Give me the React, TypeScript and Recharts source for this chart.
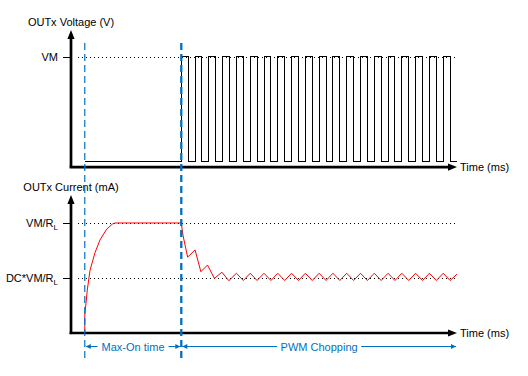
import React from 'react';
import { ComposedChart, Line, XAxis, YAxis, ReferenceLine } from 'recharts';

// ---- data (time in ms, arbitrary units; voltage in VM units; current in VM/RL units)
const voltageTime = [
  1, 8, 8.5, 9, 9.5, 10, 10.5, 11, 11.5, 12, 12.5, 13, 13.5, 14, 14.5, 15, 15.5,
  16, 16.5, 17, 17.5, 18, 18.5, 19, 19.5, 20, 20.5, 21, 21.5, 22, 22.5, 23, 23.5,
  24, 24.5, 25, 25.5, 26, 26.5, 27, 27.5, 28,
];
const voltageLevel = [
  0, 1, 0, 1, 0, 1, 0, 1, 0, 1, 0, 1, 0, 1, 0, 1, 0,
  1, 0, 1, 0, 1, 0, 1, 0, 1, 0, 1, 0, 1, 0, 1, 0,
  1, 0, 1, 0, 1, 0, 1, 0, 0,
];
const currentTime = [
  1, 1, 1.18, 1.38, 1.74, 2.1, 2.59, 3.0, 3.2, 8, 8.12, 8.46, 9, 9.42, 9.9, 10.4,
  10.95, 11.45, 12, 12.5, 13, 13.5, 14, 14.5, 15, 15.5, 16, 16.5, 17, 17.5, 18,
  18.5, 19, 19.5, 20, 20.5, 21, 21.5, 22, 22.5, 23, 23.5, 24, 24.5, 25, 25.5, 26,
  26.5, 27, 27.5, 28,
];
const currentLevel = [
  0, 0.16, 0.39, 0.57, 0.73, 0.845, 0.945, 0.99, 1, 1, 0.89, 0.69, 0.755, 0.557, 0.618, 0.497,
  0.552, 0.475, 0.543, 0.477, 0.543, 0.477, 0.543, 0.477, 0.543, 0.477, 0.543, 0.477, 0.543, 0.477, 0.543,
  0.477, 0.543, 0.477, 0.543, 0.477, 0.543, 0.477, 0.543, 0.477, 0.543, 0.477, 0.543, 0.477, 0.543, 0.477, 0.543,
  0.477, 0.543, 0.477, 0.535,
];

const maxOnStart = 1;
const maxOnEnd = 8;
const timeEnd = 28;
const vmLevel = 1;
const currentFull = 1;
const currentDc = 0.5;

const voltageData = voltageTime.map((t, k) => ({ t, v: voltageLevel[k] }));
const currentData = currentTime.map((t, k) => ({ t, i: currentLevel[k] }));

const FONT = "'Liberation Sans', Arial, sans-serif";
const BLUE = '#0070c0';

const px = (n: number) => Math.round(n) + 0.5;

const yArrowAxis = (title: string) => (p: any) => {
  const { x1, y1, y2 } = p;
  const top = Math.min(y1, y2);
  const bot = Math.max(y1, y2);
  return (
    <g>
      <line x1={x1} y1={bot} x2={x1} y2={top + 6} stroke="#000" strokeWidth={2.7} />
      <polygon points={`${x1},${top} ${x1 - 3.6},${top + 9} ${x1 + 3.6},${top + 9}`} fill="#000" />
      <text x={x1} y={top - 4} textAnchor="middle" fontFamily={FONT} fontSize={11} fill="#000">
        {title}
      </text>
    </g>
  );
};

const xArrowAxis = (title: string) => (p: any) => {
  const { x1, x2, y1 } = p;
  const l = Math.min(x1, x2);
  const r = Math.max(x1, x2);
  return (
    <g>
      <line x1={l} y1={y1} x2={r - 6} y2={y1} stroke="#000" strokeWidth={2.7} />
      <polygon points={`${r},${y1} ${r - 9},${y1 - 3.6} ${r - 9},${y1 + 3.6}`} fill="#000" />
      <text x={r + 3} y={y1 + 4} textAnchor="start" fontFamily={FONT} fontSize={11} fill="#000">
        {title}
      </text>
    </g>
  );
};

const levelShape = (main: string, sub?: string) => (p: any) => {
  const { x1, x2, y1 } = p;
  const l = Math.min(x1, x2);
  const r = Math.max(x1, x2);
  const y = px(y1);
  return (
    <g>
      <line x1={l - 8} y1={y} x2={l} y2={y} stroke="#000" strokeWidth={1} shapeRendering="crispEdges" />
      <line x1={Math.round(l) + 7} y1={y} x2={r} y2={y} stroke="#000" strokeWidth={1}
        strokeDasharray="1 3" shapeRendering="crispEdges" />
      <text x={l - 13} y={y1 + 4} textAnchor="end" fontFamily={FONT} fontSize={11} fill="#000">
        {main}
        {sub ? (
          <tspan fontSize={8} dy={3}>
            {sub}
          </tspan>
        ) : null}
      </text>
    </g>
  );
};

const spanShape = (label: string, gap: number) => (p: any) => {
  const { x1, x2, y1 } = p;
  const l = Math.min(x1, x2);
  const r = Math.max(x1, x2);
  const cx = (l + r) / 2;
  const y = px(y1);
  return (
    <g>
      <line x1={l + 1} y1={y} x2={r - 1} y2={y} stroke={BLUE} strokeWidth={1} shapeRendering="crispEdges" />
      <polygon points={`${l + 1},${y} ${l + 6},${y - 2.5} ${l + 6},${y + 2.5}`} fill={BLUE} />
      <polygon points={`${r - 1},${y} ${r - 6},${y - 2.5} ${r - 6},${y + 2.5}`} fill={BLUE} />
      <rect x={cx - gap / 2} y={y - 8} width={gap} height={16} fill="#fff" />
      <text x={cx} y={y + 4} textAnchor="middle" fontFamily={FONT} fontSize={11} fill={BLUE}>
        {label}
      </text>
    </g>
  );
};

export default function App() {
  return (
    <div style={{ position: 'absolute', left: 0, top: 0, width: 528, height: 376, background: '#fff' }}>
      <ComposedChart width={528} height={376} margin={{ top: 0, right: 71, bottom: 0, left: 71 }}>
        <XAxis dataKey="t" type="number" domain={[0, timeEnd]} allowDataOverflow hide />
        <YAxis yAxisId="v" type="number" domain={[-2.067, 1.548]} allowDataOverflow hide />
        <YAxis yAxisId="i" type="number" domain={[-0.391, 3.027]} allowDataOverflow hide />

        {/* level guide lines with tick labels */}
        <ReferenceLine yAxisId="v" ifOverflow="visible"
          segment={[{ x: 0, y: vmLevel }, { x: 27.9, y: vmLevel }]} shape={levelShape('VM')} />
        <ReferenceLine yAxisId="i" ifOverflow="visible"
          segment={[{ x: 0, y: currentFull }, { x: 27.9, y: currentFull }]} shape={levelShape('VM/R', 'L')} />
        <ReferenceLine yAxisId="i" ifOverflow="visible"
          segment={[{ x: 0, y: currentDc }, { x: 27.9, y: currentDc }]} shape={levelShape('DC*VM/R', 'L')} />

        <Line yAxisId="v" data={voltageData} dataKey="v" type="stepAfter" stroke="#000" strokeWidth={1}
          shapeRendering="crispEdges" dot={false} activeDot={false} isAnimationActive={false} />
        <Line yAxisId="i" data={currentData} dataKey="i" type="linear" stroke="#ff0000" strokeWidth={1}
          dot={false} activeDot={false} isAnimationActive={false} />

        {/* axes with arrows */}
        <ReferenceLine yAxisId="v" ifOverflow="visible"
          segment={[{ x: 0, y: -0.06 }, { x: 0, y: 1.26 }]} shape={yArrowAxis('OUTx Voltage (V)')} />
        <ReferenceLine yAxisId="v" ifOverflow="visible"
          segment={[{ x: -0.1, y: -0.058 }, { x: timeEnd, y: -0.058 }]} shape={xArrowAxis('Time (ms)')} />
        <ReferenceLine yAxisId="i" ifOverflow="visible"
          segment={[{ x: 0, y: -0.01 }, { x: 0, y: 1.255 }]} shape={yArrowAxis('OUTx Current (mA)')} />
        <ReferenceLine yAxisId="i" ifOverflow="visible"
          segment={[{ x: -0.1, y: 0 }, { x: timeEnd, y: 0 }]} shape={xArrowAxis('Time (ms)')} />

        {/* phase markers */}
        <ReferenceLine yAxisId="i" ifOverflow="visible"
          segment={[{ x: maxOnStart, y: 2.636 }, { x: maxOnStart, y: -0.264 }]}
          stroke={BLUE} strokeWidth={1.2} strokeDasharray="7 4" />
        <ReferenceLine yAxisId="i" ifOverflow="visible"
          segment={[{ x: maxOnEnd, y: 2.636 }, { x: maxOnEnd, y: -0.264 }]}
          stroke={BLUE} strokeWidth={2.3} strokeDasharray="7 4" />

        <ReferenceLine yAxisId="i" ifOverflow="visible"
          segment={[{ x: maxOnStart, y: -0.1155 }, { x: maxOnEnd, y: -0.1155 }]} shape={spanShape('Max-On time', 71)} />
        <ReferenceLine yAxisId="i" ifOverflow="visible"
          segment={[{ x: maxOnEnd, y: -0.1155 }, { x: timeEnd, y: -0.1155 }]} shape={spanShape('PWM Chopping', 84)} />
      </ComposedChart>
    </div>
  );
}
